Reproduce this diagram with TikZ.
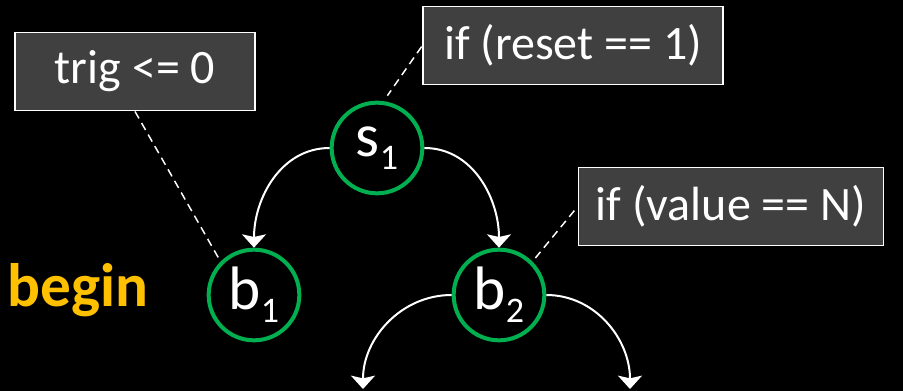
\documentclass[tikz,border=0pt]{standalone}
\usepackage{fontspec}
\setmainfont{Carlito}
\usetikzlibrary{arrows.meta}
\definecolor{okgreen}{HTML}{00B050}
\definecolor{slate}{HTML}{404040}
\definecolor{amber}{HTML}{FFC000}
\newcommand\sub[1]{\raisebox{-10pt}{\fontsize{27}{30}\selectfont #1}}

\begin{document}
\begin{tikzpicture}[x=0.75pt,y=-0.75pt,
state/.style={circle,draw=okgreen,line width=3pt,minimum size=68pt,inner sep=0pt,text=white,font=\fontsize{46}{52}\selectfont},
note/.style={draw=white,line width=0.9pt,fill=slate,text=white,minimum height=59pt,inner sep=0pt,font=\fontsize{36}{42}\selectfont},
edge/.style={white,line width=1.5pt,-{Stealth[width=18pt,length=10pt,inset=2pt]}},
link/.style={white,line width=1.1pt,dash pattern=on 6pt off 4pt}]
  \fill[black] (0,0) rectangle (903,391);
  \useasboundingbox (0,0) rectangle (903,391);
  \node[state] (s1) at (377,148) {s\sub{1}};
  \node[state] (b1) at (254,295) {b\sub{1}};
  \node[state] (b2) at (499,295) {b\sub{2}};
  \node[font=\bfseries\fontsize{46}{52}\selectfont,text=amber] (begin) at (78,290) {begin};
  \node[note,minimum width=180pt] (trig) at (135,71.5) {trig <= 0};
  \node[note,minimum width=225pt] (reset) at (573,45.5) {if (reset == 1)};
  \node[note,minimum width=229pt] (value) at (731,206.5) {if (value == N)};
  \coordinate (outl) at (363,389);
  \coordinate (outr) at (630,389);
  \draw[edge] (s1.west) to[out=180,in=90] (b1.north);
  \draw[edge] (s1.east) to[out=0,in=90] (b2.north);
  \draw[edge] (b2.west) to[out=180,in=90] (outl);
  \draw[edge] (b2.east) to[out=0,in=90] (outr);
  \draw[link] (trig.south) -- (b1.135);
  \draw[link,shorten <=1pt,shorten >=5pt] (reset.west) -- (s1.82);
  \draw[link,shorten <=4pt] (value.west) -- (b2.45);
\end{tikzpicture}
\end{document}
